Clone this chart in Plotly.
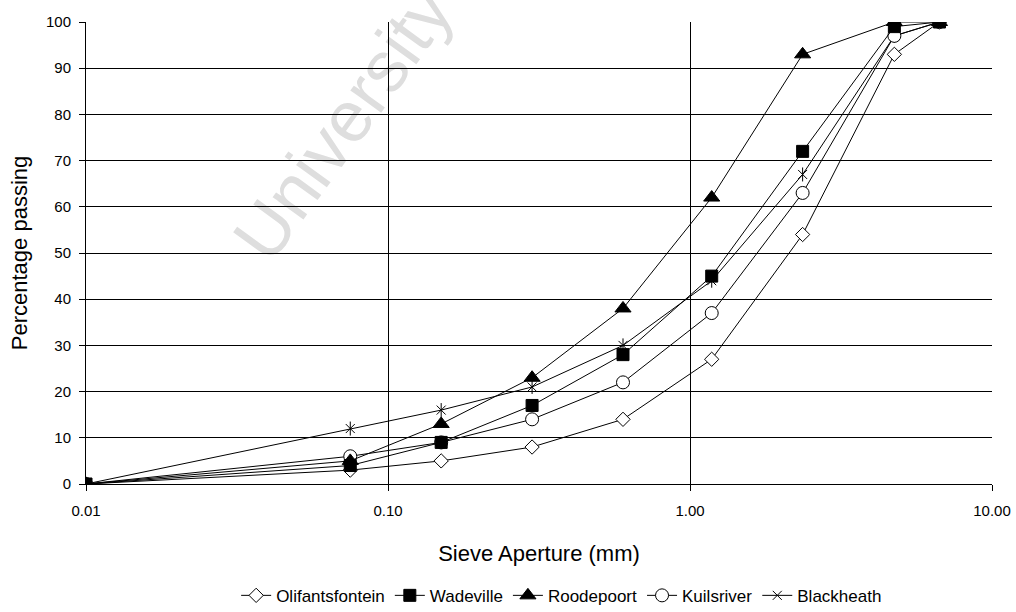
import plotly.graph_objects as go

# Sieve apertures (mm) and cumulative percentage passing for each sand
sieve_mm = [0.01, 0.075, 0.15, 0.3, 0.6, 1.18, 2.36, 4.75, 6.7]

olifantsfontein = [0, 3, 5, 8, 14, 27, 54, 93, 100]
wadeville = [0, 4, 9, 17, 28, 45, 72, 99, 100]
roodepoort = [0, 5, 13, 23, 38, 62, 93, 100, 100]
kuilsriver = [0, 6, 9, 14, 22, 37, 63, 97, 100]
blackheath = [0, 12, 16, 21, 30, 44, 67, 97, 100]

x_tickvals = [0.01, 0.1, 1, 10]
x_ticktext = ["0.01", "0.10", "1.00", "10.00"]

FONT = "Liberation Sans, Arial, sans-serif"
BLACK = "#000000"

fig = go.Figure()

line_style = dict(color=BLACK, width=1)

# Draw order (bottom to top) with legend ranks keeping the legend sequence
fig.add_trace(go.Scatter(
    x=sieve_mm, y=blackheath, name="Blackheath", legendrank=5,
    legendgroup="bh", mode="lines+markers", line=line_style,
    marker=dict(symbol="x-thin-open", size=9, color=BLACK,
                line=dict(color=BLACK, width=1)),
))
fig.add_trace(go.Scatter(
    x=sieve_mm, y=blackheath, name="Blackheath", legendgroup="bh",
    showlegend=False, mode="markers", hoverinfo="skip",
    marker=dict(symbol="line-ns-open", size=10, color=BLACK,
                line=dict(color=BLACK, width=1)),
))
fig.add_trace(go.Scatter(
    x=sieve_mm, y=kuilsriver, name="Kuilsriver", legendrank=4,
    mode="lines+markers", line=line_style,
    marker=dict(symbol="circle", size=13, color="white",
                line=dict(color=BLACK, width=1)),
))
fig.add_trace(go.Scatter(
    x=sieve_mm, y=olifantsfontein, name="Olifantsfontein", legendrank=1,
    mode="lines+markers", line=line_style,
    marker=dict(symbol="diamond", size=11, color="white",
                line=dict(color=BLACK, width=1)),
))
fig.add_trace(go.Scatter(
    x=sieve_mm, y=roodepoort, name="Roodepoort", legendrank=3,
    mode="lines+markers", line=line_style,
    marker=dict(symbol="triangle-up", size=14, color=BLACK,
                line=dict(color=BLACK, width=1)),
))
fig.add_trace(go.Scatter(
    x=sieve_mm, y=wadeville, name="Wadeville", legendrank=2,
    mode="lines+markers", line=line_style,
    marker=dict(symbol="square", size=12, color=BLACK,
                line=dict(color=BLACK, width=1)),
))

fig.update_layout(
    width=1016, height=612,
    margin=dict(l=86, r=24, t=22, b=128, autoexpand=False),
    paper_bgcolor="white", plot_bgcolor="white",
    font=dict(family=FONT, color=BLACK, size=15),
    showlegend=True,
    legend=dict(
        orientation="h", x=0.525, xanchor="center", y=-0.242, yanchor="middle",
        font=dict(family=FONT, size=17, color=BLACK),
        bgcolor="rgba(0,0,0,0)", itemwidth=30, tracegroupgap=0,
    ),
    shapes=[dict(
        type="rect", xref="paper", yref="paper",
        x0=0.117, x1=0.437, y0=0.62, y1=0.96,
        layer="below", line=dict(width=0), fillcolor="rgba(0,0,0,0)",
        label=dict(text="University", textangle=-54,
                   textposition="middle center",
                   font=dict(family=FONT, size=72, color="#dedede")),
    )],
)

fig.update_xaxes(
    type="log", range=[-2, 1],
    tickvals=x_tickvals, ticktext=x_ticktext,
    showgrid=True, gridcolor=BLACK, gridwidth=1,
    showline=True, linecolor=BLACK, linewidth=1, mirror=False,
    ticks="outside", ticklen=6, tickcolor=BLACK, ticklabelstandoff=7,
    tickfont=dict(family=FONT, size=15, color=BLACK),
    title=dict(text="Sieve Aperture (mm)", standoff=27,
               font=dict(family=FONT, size=22, color=BLACK)),
    zeroline=False,
)
fig.update_yaxes(
    range=[0, 100], dtick=10,
    showgrid=True, gridcolor=BLACK, gridwidth=1,
    showline=True, linecolor=BLACK, linewidth=1,
    ticks="outside", ticklen=6, tickcolor=BLACK, ticklabelstandoff=5,
    tickfont=dict(family=FONT, size=15, color=BLACK),
    title=dict(text="Percentage passing", standoff=12,
               font=dict(family=FONT, size=22, color=BLACK)),
    zeroline=False,
)

fig.write_html("out.html")
